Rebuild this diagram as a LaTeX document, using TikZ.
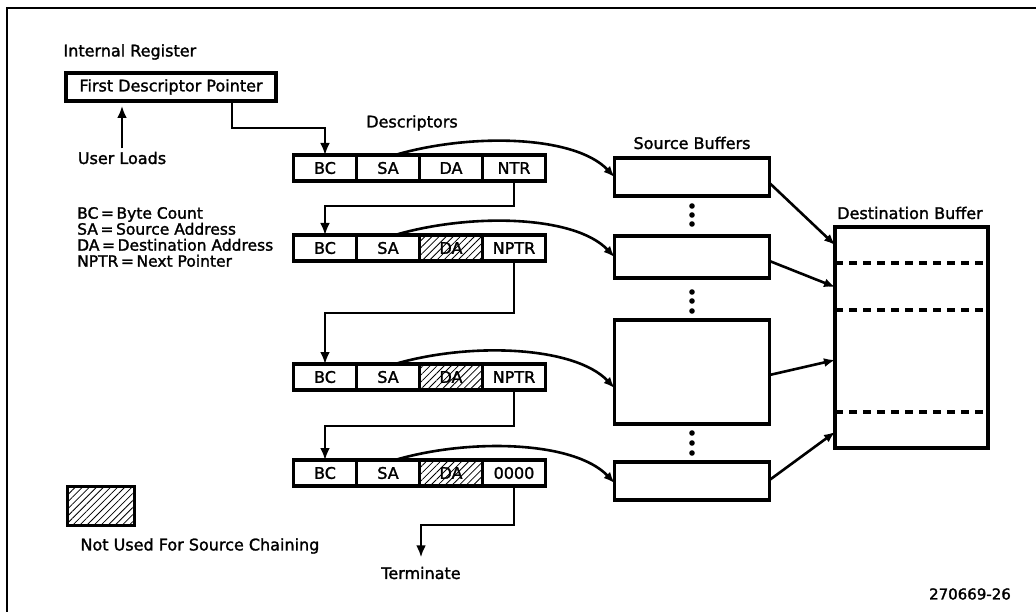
\documentclass[tikz,border=0pt]{standalone}
\usepackage{fontspec}
\setmainfont{DejaVu Sans}[FakeBold=1.6]
\usetikzlibrary{arrows.meta, patterns.meta}

\begin{document}
\begin{tikzpicture}[x=1pt, y=-1pt,
    font=\fontsize{16}{16}\selectfont,
    box/.style={draw, line width=3.2pt, inner sep=0pt, outer sep=0pt},
    cell/.style={box, minimum width=63pt, minimum height=26pt},
    plain/.style={},
    unused/.style={pattern={Lines[angle=45, distance=5pt, line width=0.8pt]}},
    link/.style={line width=2.8pt, -{Latex[length=12pt, width=10pt]}},
    feed/.style={line width=2.6pt, -{Latex[length=11pt, width=9pt]}},
    sep/.style={line width=3.2pt, dash pattern=on 8pt off 6pt}]
    \useasboundingbox (0,0) rectangle (1036,612);
    \draw[line width=2.2pt] (7,612) -- (7,8) -- (1036,8);

    \node[anchor=west] (intreg) at (60,52) {Internal Register};
    \node[box, minimum width=210pt, minimum height=28pt] (fdp) at (171,87) {First Descriptor Pointer};
    \node (user) at (122,158) {User Loads};
    \draw[link, shorten >=5pt] (user.north) -- (user.north |- fdp.south);

    \node[anchor=west, align=left, inner sep=0pt, font=\fontsize{15.5}{16}\selectfont] (legend) at (77,237)
        {BC\,=\,Byte Count\\SA\,=\,Source Address\\DA\,=\,Destination Address\\NPTR\,=\,Next Pointer};

    \node (desc) at (412,123) {Descriptors};
    \foreach \r/\y/\kind/\ptr in {1/168/plain/NTR, 2/248/unused/NPTR, 3/377/unused/NPTR, 4/473/unused/0000} {
        \node[cell] (bc\r) at (325,\y) {BC};
        \node[cell] (sa\r) at (388,\y) {SA};
        \node[cell, \kind] (da\r) at (451,\y) {DA};
        \node[cell] (np\r) at (514,\y) {\ptr};
    }
    \draw[link] ([xshift=61pt]fdp.south) -- ++(0,27) -| (bc1.north);
    \draw[link] (np1.south) -- ++(0,25) -| (bc2.north);
    \draw[link] (np2.south) -- ++(0,52) -| (bc3.north);
    \draw[link] (np3.south) -- ++(0,36) -| (bc4.north);
    \node (term) at (421,573) {Terminate};
    \draw[link, shorten >=6pt] (np4.south) -- ++(0,39) -| (term.north);

    \node (srclbl) at (692,143) {Source Buffers};
    \node[box, minimum width=155pt, minimum height=38pt] (sb1) at (692,177) {};
    \node[box, minimum width=155pt, minimum height=42pt] (sb2) at (692,257) {};
    \node[box, minimum width=155pt, minimum height=104pt] (sb3) at (692,372) {};
    \node[box, minimum width=155pt, minimum height=38pt] (sb4) at (692,481) {};
    \foreach \y in {206,215,224,292,301,311,433,443,453}
        \fill (692,\y) circle (2.8pt);

    \draw[feed] ([xshift=7pt]sa1.north) .. controls +(75,-22) and +(-40,-42) .. (sb1.west);
    \draw[feed] ([xshift=7pt]sa2.north) .. controls +(75,-22) and +(-40,-42) .. (sb2.west);
    \draw[feed] ([xshift=7pt]sa3.north) .. controls +(75,-22) and +(-40,-42) .. ([yshift=-16pt]sb3.west);
    \draw[feed] ([xshift=7pt]sa4.north) .. controls +(75,-22) and +(-40,-42) .. ([yshift=-2pt]sb4.west);

    \node (dstlbl) at (910,213) {Destination Buffer};
    \node[box, minimum width=153pt, minimum height=221pt] (dest) at (911.5,337.5) {};
    \foreach \d in {36,83,185}
        \draw[sep] ([yshift=-\d pt]dest.north west) -- ([yshift=-\d pt]dest.north east);

    \draw[feed] ([yshift=-6pt]sb1.east) -- ([yshift=-18pt]dest.north west);
    \draw[feed] ([yshift=-4pt]sb2.east) -- ([yshift=-60pt]dest.north west);
    \draw[feed] ([yshift=-3pt]sb3.east) -- ([yshift=-133pt]dest.north west);
    \draw[feed] ([yshift=1pt]sb4.east) -- ([yshift=-205pt]dest.north west);

    \node[box, unused, minimum width=67pt, minimum height=39pt] (key) at (101,506) {};
    \node[anchor=west] (keytxt) at (77,546) {Not Used For Source Chaining};
    \node[font=\fontsize{15}{15}\selectfont] (fignum) at (970,594) {270669-26};
\end{tikzpicture}
\end{document}
